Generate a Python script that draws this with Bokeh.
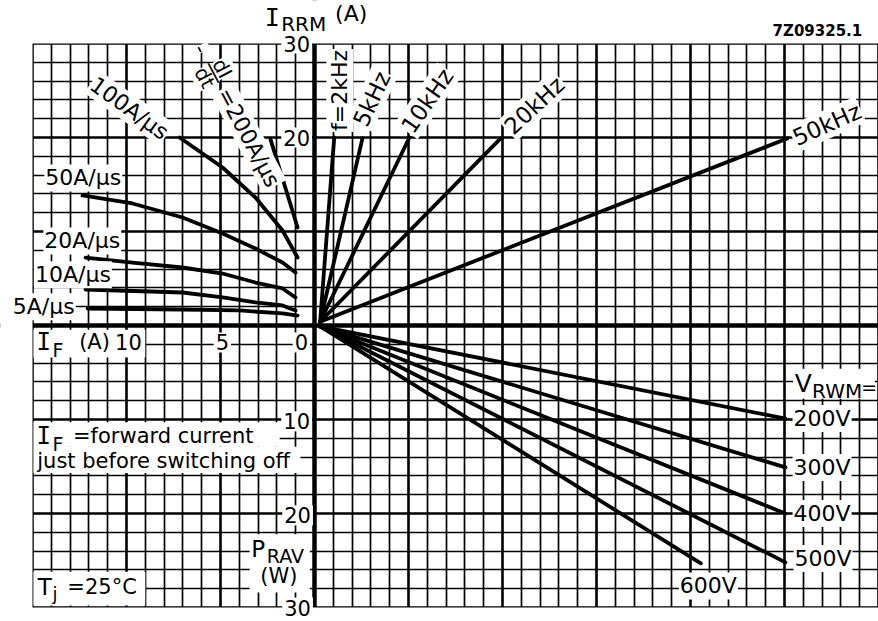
import math
from bokeh.plotting import figure
from bokeh.models import Grid, FixedTicker, Label, Span, BoxAnnotation
from bokeh.embed import file_html
from bokeh.resources import INLINE

# ---------------- data ----------------
# top-left quadrant: I_RRM (A) versus I_F (A) for several -dI/dt
didt_names = ["5A/µs", "10A/µs", "20A/µs", "50A/µs", "100A/µs", "200A/µs"]
if_5 = [12.07, 7.02, 3.99, 1.70, 0.90]
irrm_5 = [1.81, 1.70, 1.60, 1.28, 1.06]
if_10 = [12.18, 7.02, 4.89, 3.14, 1.70, 1.01]
irrm_10 = [3.83, 3.51, 2.98, 2.45, 2.13, 1.60]
if_20 = [12.18, 9.68, 7.02, 4.89, 3.14, 1.70, 1.01]
irrm_20 = [7.23, 6.70, 6.17, 5.53, 4.57, 3.94, 2.98]
if_50 = [12.34, 9.68, 7.02, 4.89, 3.14, 1.70, 1.01]
irrm_50 = [13.83, 12.98, 11.49, 9.79, 8.19, 6.70, 5.64]
if_100 = [7.18, 4.89, 3.14, 1.70, 0.90]
irrm_100 = [20.0, 16.81, 13.62, 10.11, 7.23]
if_200 = [2.34, 0.90]
irrm_200 = [19.8, 10.43]

# top-right quadrant: frequency lines (from origin to end point)
freq_khz = [2, 5, 10, 20, 50]
freq_x_end = [2.1, 5.1, 10.1, 19.8, 50.3]
freq_irrm_end = [20.0, 19.9, 20.0, 19.9, 19.9]

# bottom-right quadrant: V_RWM lines (from origin to end point)
vrwm_volts = [200, 300, 400, 500, 600]
vrwm_x_end = [50.1, 50.1, 50.1, 50.1, 41.1]
vrwm_prav_end = [9.9, 15.1, 20.0, 25.2, 25.3]

# axis tick labels
if_tick_labels = ["10", "5", "0"]
irrm_tick_labels = ["30", "20"]
prav_tick_labels = ["10", "20", "30"]

IF_SCALE = 2.0  # plot units per ampere of I_F (one grid cell = 1 A)

FONT = "DejaVu Sans"
MONO = "DejaVu Sans Mono"

W, H = 878, 621
PX = 9.4  # pixels per plot unit
x0 = -30 - 32 / PX
y1 = 30 + 43 / PX
p = figure(width=W, height=H, x_range=(x0, x0 + W / PX), y_range=(y1 - H / PX, y1),
           x_axis_type=None, y_axis_type=None, toolbar_location=None,
           output_backend="svg", min_border=0, min_border_left=0, min_border_right=0,
           min_border_top=0, min_border_bottom=0)
p.outline_line_color = None
p.background_fill_color = "white"
p.border_fill_color = "white"

xmaj = [-30, -20, -10, 0, 10, 20, 30, 40, 50, 60]
xmin = [v for v in range(-30, 60, 2) if v % 10 != 0]
ymaj = [-30, -20, -10, 0, 10, 20, 30]
ymin = [v for v in range(-30, 31, 2) if v % 10 != 0]

gx = Grid(dimension=0, ticker=FixedTicker(ticks=xmaj, minor_ticks=xmin), bounds=(-30, 60),
          cross_bounds=(-30.14, 30.14),
          grid_line_color="black", grid_line_width=2.6,
          minor_grid_line_color="black", minor_grid_line_width=1.7)
gy = Grid(dimension=1, ticker=FixedTicker(ticks=ymaj, minor_ticks=ymin), bounds=(-30, 30),
          cross_bounds=(-30.14, 62),
          grid_line_color="black", grid_line_width=2.6,
          minor_grid_line_color="black", minor_grid_line_width=1.7)
p.add_layout(gx)
p.add_layout(gy)

# curves
LW = 3.8
for ifs, irs in [(if_5, irrm_5), (if_10, irrm_10), (if_20, irrm_20),
                 (if_50, irrm_50), (if_100, irrm_100), (if_200, irrm_200)]:
    p.line([-IF_SCALE * v for v in ifs], irs, line_color="black", line_width=LW,
           line_join="round", line_cap="round")

for xe, ye in zip(freq_x_end, freq_irrm_end):
    p.line([0.6, xe], [0.4, ye], line_color="black", line_width=LW, line_cap="round")

for xe, pe in zip(vrwm_x_end, vrwm_prav_end):
    p.line([0.6, xe], [-0.1, -pe], line_color="black", line_width=LW, line_cap="round")


def box(l=None, r=None, t=None, b=None):
    kw = {}
    if l is not None:
        kw["left"] = l
    if r is not None:
        kw["right"] = r
    if t is not None:
        kw["top"] = t
    if b is not None:
        kw["bottom"] = b
    p.add_layout(BoxAnnotation(fill_color="white", fill_alpha=1.0, line_color=None,
                               line_alpha=0, **kw))


def lab(x, y, text, size=21, angle=0, align="center", baseline="middle", bg=True,
        font=FONT, style="normal", pad=1):
    p.add_layout(Label(x=x, y=y, text=text, text_font=font, text_font_size=f"{size}px",
                       text_font_style=style, angle=angle, angle_units="deg",
                       text_align=align, text_baseline=baseline, text_color="black",
                       background_fill_color="white" if bg else None, padding=pad))


# main axes (limited to the grid by white paper outside it)
p.add_layout(Span(location=0, dimension="height", line_color="black", line_width=4.5))
p.add_layout(Span(location=0, dimension="width", line_color="black", line_width=4.5))
box(b=30.0)
box(t=-30.0)
box(r=-30.0)

# white background boxes of grouped labels
box(-29.9, -18.0, -0.45, -3.4)      # I_F (A) 10
box(-29.9, -3.7, -10.3, -12.9)      # I_F = forward current
box(-29.9, -1.5, -12.9, -15.7)      # just before switching off
box(-29.9, -18.0, -26.2, -29.8)     # T_j = 25°C
box(-6.9, -0.5, -22.2, -28.4)       # P_RAV (W)
box(50.9, 59.6, -4.6, -7.8)         # V_RWM =

# I_RRM axis title and ticks
lab(-4.5, 32.8, "I", size=25, bg=False, font=MONO)
lab(-1.15, 32.1, "RRM", size=20, bg=False)
lab(3.9, 33.2, "(A)", size=22, bg=False)
lab(-1.9, 30.0, irrm_tick_labels[0], size=21, pad=2)
lab(-1.9, 20.0, irrm_tick_labels[1], size=21, pad=2)
lab(53.5, 31.3, "7Z09325.1", size=15, bg=False, style="bold")

# dI/dt labels
lab(-19.7, 23.1, "100A/µs", size=22, angle=-35.5)
ang = -62.0
ux, uy = math.cos(math.radians(ang)), math.sin(math.radians(ang))
vx, vy = -uy, ux
fx, fy = -10.74, 26.86   # centre of the dI/dt fraction
lab(-7.0, 20.0, "=200A/µs", size=22, angle=ang)
lab(fx + 1.05 * vx, fy + 1.05 * vy, "dI", size=20, angle=ang, pad=0)
lab(fx - 1.05 * vx, fy - 1.05 * vy, "dt", size=20, angle=ang, pad=0)
lab(fx + 0.15 * vx, fy + 0.15 * vy, "—", size=24, angle=ang, bg=False)
lab(fx - 2.9 * ux + 0.1 * vx, fy - 2.9 * uy + 0.1 * vy, "-", size=21, angle=ang, pad=0)
lab(-24.6, 15.7, didt_names[3], size=22)
lab(-24.7, 9.0, didt_names[2], size=22)
lab(-25.7, 5.4, didt_names[1], size=22)
lab(-28.8, 2.0, didt_names[0], size=22)

# frequency labels
lab(2.7, 25.0, f"f={freq_khz[0]}kHz", size=22, angle=90)
lab(6.1, 24.1, f"{freq_khz[1]}kHz", size=23, angle=65)
lab(12.0, 23.9, f"{freq_khz[2]}kHz", size=23, angle=55)
lab(23.4, 23.4, f"{freq_khz[3]}kHz", size=23, angle=43)
lab(54.5, 21.4, f"{freq_khz[4]}kHz", size=23, angle=24)

# I_F axis
lab(-28.8, -1.8, "I", size=24, bg=False, font=MONO)
lab(-27.3, -2.6, "F", size=19, bg=False)
lab(-23.4, -1.8, "(A)", size=21, bg=False)
lab(-19.8, -1.8, if_tick_labels[0], size=21, bg=False)
lab(-9.8, -1.8, if_tick_labels[1], size=21, pad=2)
lab(-1.4, -1.8, if_tick_labels[2], size=21, pad=2)

# P_RAV axis
lab(-1.9, -10.2, prav_tick_labels[0], size=21, pad=2)
lab(-1.8, -20.2, prav_tick_labels[1], size=21, pad=2)
lab(-1.8, -30.0, prav_tick_labels[2], size=21, pad=2)
lab(-6.0, -23.8, "P", size=23, bg=False)
lab(-3.1, -24.5, "RAV", size=19, bg=False)
lab(-3.8, -26.7, "(W)", size=21, bg=False)

# notes
lab(-28.8, -11.8, "I", size=24, bg=False, font=MONO)
lab(-27.3, -12.6, "F", size=19, bg=False)
lab(-25.8, -11.8, "=forward current", size=21, align="left", bg=False)
lab(-29.6, -14.4, "just before switching off", size=21, align="left", bg=False)
lab(-28.7, -27.8, "T", size=23, bg=False)
lab(-27.6, -28.5, "j", size=18, bg=False)
lab(-26.4, -27.8, "=25°C", size=21, align="left", bg=False)

# V_RWM labels
lab(52.0, -6.2, "V", size=25, bg=False)
lab(55.6, -7.0, "RWM", size=20, bg=False)
lab(59.0, -6.5, "=", size=19, bg=False)
lab(54.0, -9.9, f"{vrwm_volts[0]}V", size=22)
lab(54.0, -15.1, f"{vrwm_volts[1]}V", size=22)
lab(54.0, -20.0, f"{vrwm_volts[2]}V", size=22)
lab(54.1, -24.8, f"{vrwm_volts[3]}V", size=22)
lab(41.9, -27.7, f"{vrwm_volts[4]}V", size=22)

open("out.html", "w").write(file_html(p, INLINE))
